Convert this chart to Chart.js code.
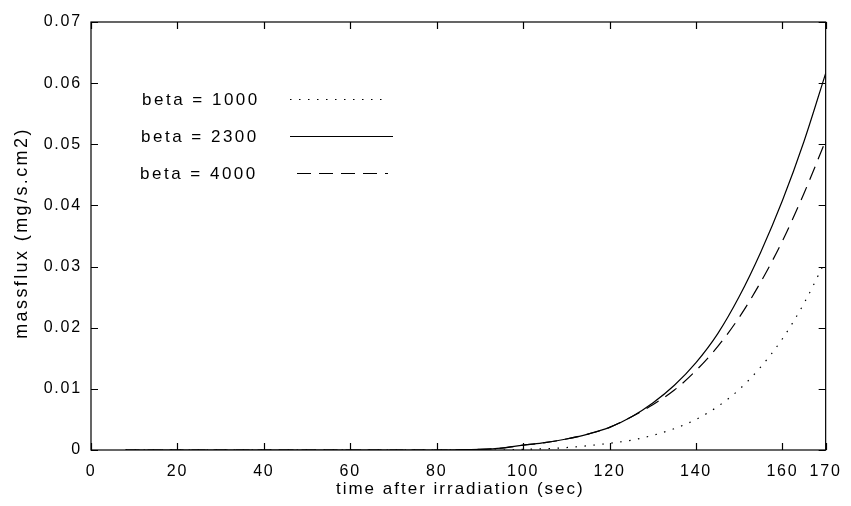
<!DOCTYPE html>
<html>
<head>
<meta charset="utf-8">
<script src="https://cdn.jsdelivr.net/npm/chart.js@4.4.1/dist/chart.umd.min.js"></script>
<style>
  html, body { margin: 0; padding: 0; background: #fff; }
  #wrap { width: 851px; height: 506px; }
</style>
</head>
<body>
<div id="wrap"><canvas id="myChart" width="851" height="506"></canvas></div>
<script>
// time axis (sec) and massflux values (mg/s.cm2)
const time     = [8, 20, 40, 60, 80, 90, 95, 100, 105, 110, 115, 120, 125, 130, 135, 140, 145, 150, 155, 160, 165, 170];
const beta1000 = [0, 0, 0, 0, 0, 0, 0, 0.0001, 0.0002, 0.0004, 0.0007, 0.0011, 0.0016, 0.0024, 0.0035, 0.005, 0.0071, 0.0099, 0.0136, 0.0182, 0.024, 0.031];
const beta2300 = [0, 0, 0, 0, 0, 0.0001, 0.0003, 0.0008, 0.0012, 0.0018, 0.0026, 0.0037, 0.0054, 0.0077, 0.0106, 0.0143, 0.019, 0.0251, 0.0324, 0.0408, 0.0505, 0.0616];
const beta4000 = [0, 0, 0, 0, 0, 0.0001, 0.0003, 0.0008, 0.0012, 0.0018, 0.0026, 0.0037, 0.0054, 0.0074, 0.0098, 0.013, 0.0169, 0.0217, 0.0275, 0.0342, 0.042, 0.0506];

const seriesNames = ['beta = 1000', 'beta = 2300', 'beta = 4000'];
const xTicks = [0, 20, 40, 60, 80, 100, 120, 140, 160, 170];
const xTickLabels = ['0', '20', '40', '60', '80', '100', '120', '140', '160', '170'];
const yTicks = [0, 0.01, 0.02, 0.03, 0.04, 0.05, 0.06, 0.07];
const yTickLabels = ['0', '0.01', '0.02', '0.03', '0.04', '0.05', '0.06', '0.07'];

const xTitle = 'time after irradiation (sec)';
const yTitle = 'massflux (mg/s.cm2)';

const FONT = '"Liberation Sans", Arial, sans-serif';
Chart.defaults.font.family = FONT;
Chart.defaults.color = '#000';

const dashes = [[1.5, 7.5], [], [14, 8]];

function toPoints(ys) {
    return time.map((t, i) => ({ x: t, y: ys[i] }));
}

// box, inward ticks, titles and the in-plot legend
const framePlugin = {
    id: 'frame',
    beforeDraw(chart) {
        chart.ctx.letterSpacing = '1.8px';
    },
    afterDraw(chart) {
        const ctx = chart.ctx;
        const a = chart.chartArea;
        const xs = chart.scales.x, ys = chart.scales.y;
        ctx.save();
        ctx.strokeStyle = '#000';
        ctx.lineWidth = 1.2;
        ctx.strokeRect(a.left, a.top, a.right - a.left, a.bottom - a.top);

        // ticks on all four sides, pointing in
        const len = 7;
        ctx.beginPath();
        xTicks.forEach(v => {
            const px = Math.round(xs.getPixelForValue(v)) + 0.5;
            ctx.moveTo(px, a.bottom); ctx.lineTo(px, a.bottom - len);
            ctx.moveTo(px, a.top); ctx.lineTo(px, a.top + len);
        });
        yTicks.forEach(v => {
            const py = Math.round(ys.getPixelForValue(v)) + 0.5;
            ctx.moveTo(a.left, py); ctx.lineTo(a.left + len, py);
            ctx.moveTo(a.right, py); ctx.lineTo(a.right - len, py);
        });
        ctx.stroke();

        // axis titles
        ctx.fillStyle = '#000';
        ctx.font = '17px ' + FONT;
        ctx.letterSpacing = '2px';
        ctx.textAlign = 'center';
        ctx.textBaseline = 'middle';
        ctx.fillText(xTitle, (a.left + a.right) / 2 + 2, 489);
        ctx.save();
        ctx.translate(22, (a.top + a.bottom) / 2 - 3);
        ctx.rotate(-Math.PI / 2);
        ctx.font = '18px ' + FONT;
        ctx.letterSpacing = '2.4px';
        ctx.fillText(yTitle, 0, 0);
        ctx.restore();

        // legend
        const rows = [100, 137, 174];
        ctx.font = '17px ' + FONT;
        ctx.letterSpacing = '2.5px';
        ctx.textAlign = 'left';
        chart.data.datasets.forEach((ds, i) => {
            ctx.fillText(ds.label, 142 - i, rows[i]);
            ctx.beginPath();
            ctx.setLineDash(ds.borderDash || []);
            ctx.lineWidth = 1.2;
            const x0 = i === 2 ? 297 : 290;
            const x1 = i === 1 ? 393 : 388;
            ctx.moveTo(x0, rows[i] - 0.5);
            ctx.lineTo(x1, rows[i] - 0.5);
            ctx.stroke();
        });
        ctx.setLineDash([]);
        ctx.restore();
        ctx.letterSpacing = '0px';
    }
};

new Chart('myChart', {
    type: 'line',
    data: {
        datasets: [beta1000, beta2300, beta4000].map((ys, i) => ({
            label: seriesNames[i],
            data: toPoints(ys),
            borderColor: '#000',
            borderWidth: 1.2,
            borderDash: dashes[i],
            pointRadius: 0,
            fill: false,
            cubicInterpolationMode: 'monotone'
        }))
    },
    options: {
        responsive: false,
        animation: false,
        devicePixelRatio: 1,
        layout: { padding: { top: 22, right: 16, left: 0, bottom: 0 } },
        plugins: {
            legend: { display: false },
            tooltip: { enabled: false }
        },
        scales: {
            x: {
                type: 'linear',
                min: 0,
                max: 170,
                grid: { display: false, drawTicks: false },
                border: { display: false },
                afterBuildTicks: scale => { scale.ticks = xTicks.map(v => ({ value: v })); },
                afterFit: scale => { scale.height = 56; },
                ticks: {
                    padding: 12,
                    maxRotation: 0,
                    autoSkip: false,
                    font: { size: 16 },
                    callback: (v, i) => xTickLabels[i]
                }
            },
            y: {
                type: 'linear',
                min: 0,
                max: 0.07,
                grid: { display: false, drawTicks: false },
                border: { display: false },
                afterBuildTicks: scale => { scale.ticks = yTicks.map(v => ({ value: v })); },
                afterFit: scale => { scale.width = 91; },
                ticks: {
                    padding: 9,
                    autoSkip: false,
                    font: { size: 16 },
                    callback: (v, i) => yTickLabels[i]
                }
            }
        }
    },
    plugins: [framePlugin]
});
</script>
</body>
</html>
